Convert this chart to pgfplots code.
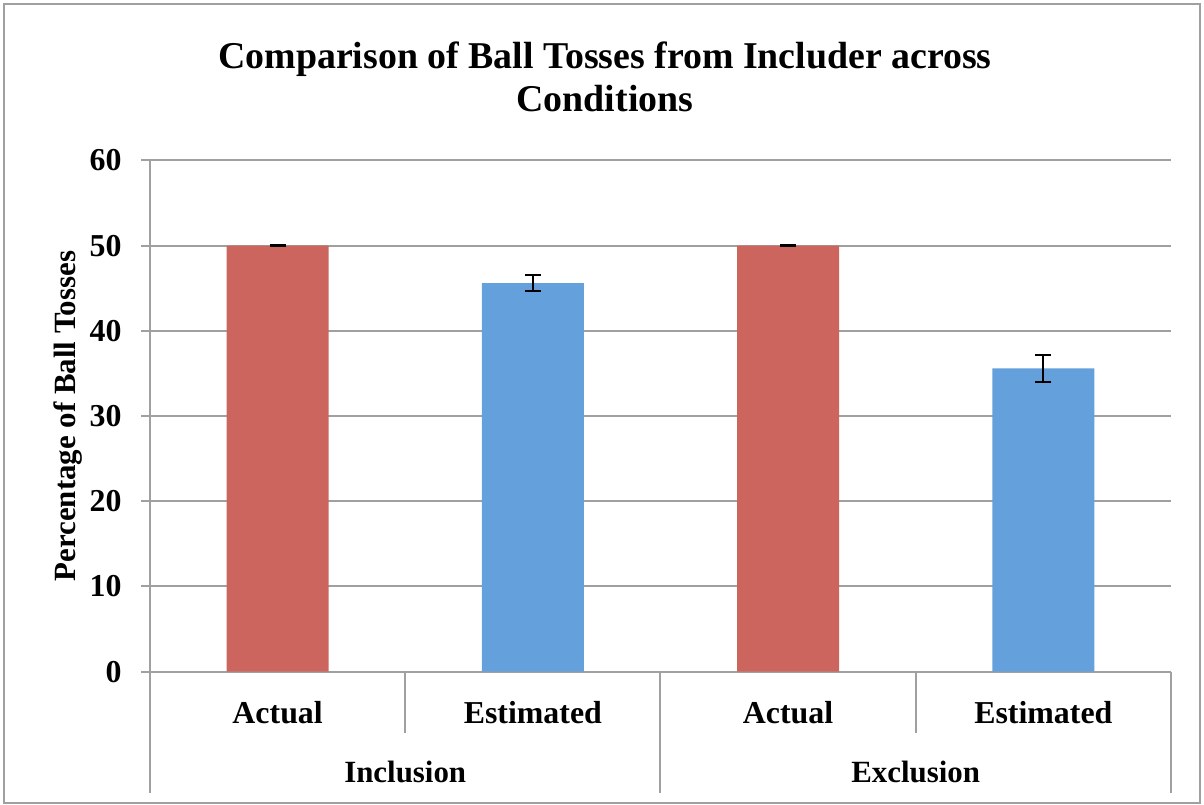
\documentclass[border=0pt]{standalone}
\usepackage{fontspec}
\setmainfont{Liberation Serif}
\usepackage{pgfplots}
\pgfplotsset{compat=1.18}
\definecolor{barred}{RGB}{204,101,94}
\definecolor{barblue}{RGB}{100,160,220}
\definecolor{gridgray}{RGB}{160,160,160}
\begin{document}
\begin{tikzpicture}
\useasboundingbox (0,0) rectangle (1204bp,805bp);
\draw[gridgray, line width=1.5bp] (4bp,2bp) rectangle (1200bp,801bp);
\node[font=\fontsize{38}{44}\selectfont\bfseries, anchor=base] at (605bp,736bp) {Comparison of Ball Tosses from Includer across};
\node[font=\fontsize{38}{44}\selectfont\bfseries, anchor=base] at (605bp,693bp) {Conditions};
\begin{axis}[
  at={(150bp,133.3bp)}, anchor=south west,
  scale only axis, width=1021bp, height=511.2bp,
  xmin=-0.5, xmax=3.5, ymin=0, ymax=60,
  ytick={0,10,...,60},
  axis x line*=bottom, axis y line*=left,
  axis line style={gridgray, line width=2bp, -},
  ymajorgrids, grid style={gridgray, line width=2bp},
  major tick style={gridgray, line width=2bp},
  tick align=outside, major tick length=9bp,
  xtick={0,1,2,3}, xticklabels={Actual,Estimated,Actual,Estimated},
  xtick style={draw=none},
  ticklabel style={font=\fontsize{32}{36}\selectfont\bfseries},
  x tick label style={anchor=base, yshift=-43bp},
  y tick label style={xshift=-16bp},
  /pgf/number format/assume math mode=true,
  ylabel={Percentage of Ball Tosses},
  ylabel style={font=\fontsize{31}{36}\selectfont\bfseries, at={(axis description cs:-0.0803,0.5)}, anchor=center},
  clip=false,
  bar width=0.4,
]
\addplot[ybar, bar shift=0pt, fill=barred, draw=none,
  error bars/.cd, y dir=both, y explicit, error mark=|,
  error bar style={black, line width=2bp},
  error mark options={black, line width=2bp, mark size=8bp}]
  coordinates {(0,50) +- (0,0.05) (2,50) +- (0,0.05)};
\addplot[ybar, bar shift=0pt, fill=barblue, draw=none,
  error bars/.cd, y dir=both, y explicit, error mark=|,
  error bar style={black, line width=2bp},
  error mark options={black, line width=2bp, mark size=8bp}]
  coordinates {(1,45.6) +- (0,0.95) (3,35.6) +- (0,1.55)};
\draw[gridgray, line width=2bp] (axis cs:-0.5,0) -- ++(0pt,-121bp);
\draw[gridgray, line width=2bp] (axis cs:0.5,0) -- ++(0pt,-61bp);
\draw[gridgray, line width=2bp] (axis cs:1.5,0) -- ++(0pt,-121bp);
\draw[gridgray, line width=2bp] (axis cs:2.5,0) -- ++(0pt,-61bp);
\draw[gridgray, line width=2bp] (axis cs:3.5,0) -- ++(0pt,-121bp);
\node[font=\fontsize{31}{36}\selectfont\bfseries, anchor=base] at ([yshift=-111bp]axis cs:0.5,0) {Inclusion};
\node[font=\fontsize{31}{36}\selectfont\bfseries, anchor=base] at ([yshift=-111bp]axis cs:2.5,0) {Exclusion};
\end{axis}
\end{tikzpicture}
\end{document}
